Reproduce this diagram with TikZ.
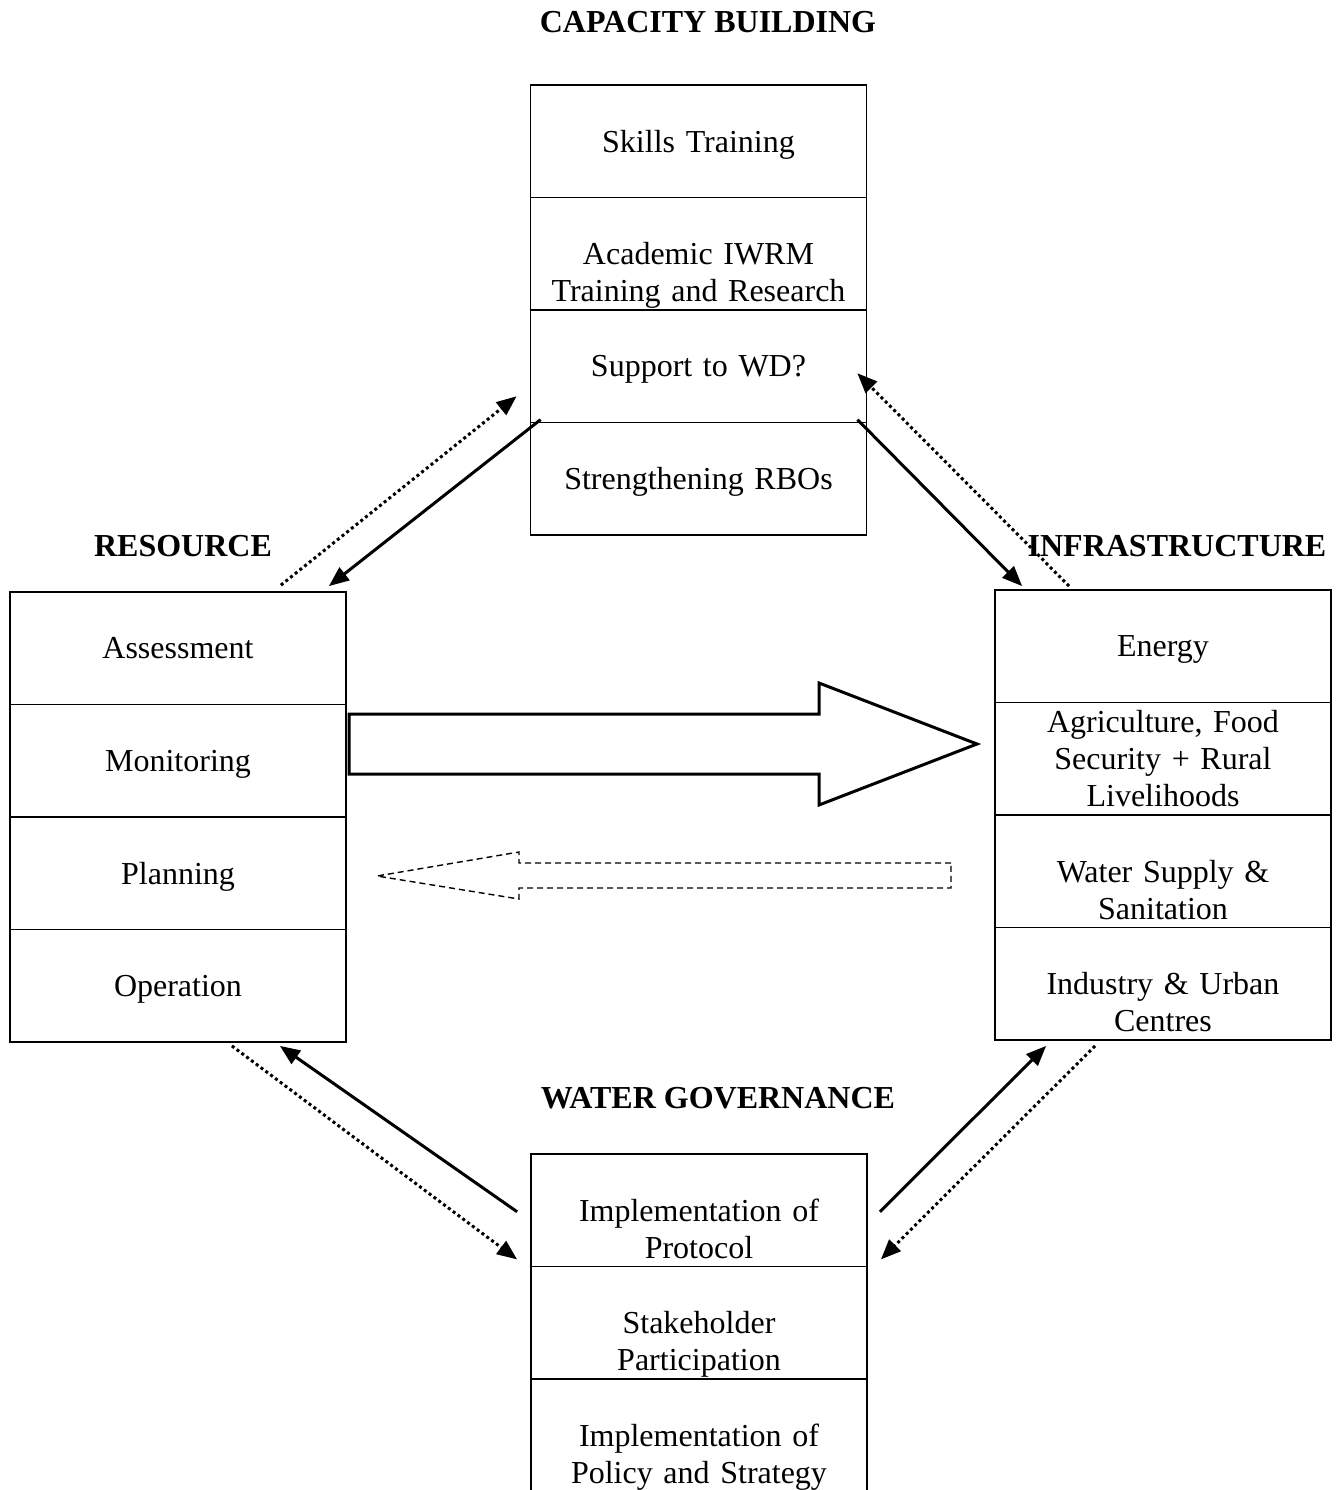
\documentclass[tikz,border=0pt]{standalone}
\usepackage{fontspec}
\setmainfont{Liberation Serif}
\usetikzlibrary{arrows.meta,calc}

\begin{document}
\begin{tikzpicture}[x=0.5pt,y=-0.5pt,
    cell/.style={draw, line width=0.9pt, minimum width=168pt, minimum height=56.25pt,
      inner xsep=4pt, inner ysep=0pt, text width=160pt, align=center, text depth=0pt,
      font=\fontsize{16}{18.5}\selectfont},
    title/.style={font=\fontsize{16}{18.5}\selectfont\bfseries},
    link/.style={line width=1.5pt, -{Triangle[length=10pt,width=8pt]}},
    dots/.style={link, dash pattern=on 1.5pt off 1.5pt}]

        \useasboundingbox (0,0) rectangle (1341,1490);

        % headings
        \node[title] (capacity)   at (708,22)   {CAPACITY BUILDING};
        \node[title] (resource)   at (183,546)  {RESOURCE};
        \node[title] (infra)      at (1177,546) {INFRASTRUCTURE};
        \node[title] (governance) at (718,1098) {WATER GOVERNANCE};

        \begin{scope}[every node/.style={cell}]
          % capacity building
          \node (skills)   at (698.5,141.25) {Skills Training};
          \node (academic) at (698.5,253.75) {Academic IWRM\\Training and Research};
          \node (support)  at (698.5,366.25) {Support to WD?};
          \node (rbos)     at (698.5,478.75) {Strengthening RBOs};
          % resource
          \node (assess)   at (178,648.25) {Assessment};
          \node (monitor)  at (178,760.75) {Monitoring};
          \node (plan)     at (178,873.25) {Planning};
          \node (operate)  at (178,985.75) {Operation};
          % infrastructure
          \node (energy)   at (1163,646.25) {Energy};
          \node[text height=11pt, text depth=37pt] (agri) at (1163,758.75)
            {Agriculture, Food\\Security + Rural\\Livelihoods};
          \node (water)    at (1163,871.25) {Water Supply \&\\Sanitation};
          \node (industry) at (1163,983.75) {Industry \& Urban\\Centres};
          % water governance
          \node (protocol) at (699,1210.25) {Implementation of\\Protocol};
          \node (stake)    at (699,1322.75) {Stakeholder\\Participation};
          \node (policy)   at (699,1435.25) {Implementation of\\Policy and Strategy};
        \end{scope}

        % links between the groups
        \draw[link] ($(rbos.north west)+(11,-2)$) -- ($(assess.north east)+(-18,-5)$);
        \draw[dots] ($(assess.north east)+(-66,-6)$) -- ($(support.west)+(-13,30)$);
        \draw[link] ($(rbos.north east)+(-10,-2)$) -- ($(energy.north west)+(28,-3)$);
        \draw[dots] ($(energy.north west)+(75,-3)$) -- ($(support.east)+(-10,7)$);
        \draw[link] ($(protocol.west)+(-13,1.5)$) -- ($(operate.south east)+(-67,3)$);
        \draw[dots] ($(operate.south east)+(-115,3)$) -- ($(protocol.south west)+(-13,-8)$);
        \draw[link] ($(protocol.east)+(12,1.5)$) -- ($(industry.south west)+(52,5)$);
        \draw[dots] ($(industry.south west)+(101,5)$) -- ($(protocol.south east)+(13,-8)$);

        % block arrows
        \draw[line width=1.5pt, line join=miter]
          (349,714) -- (819,714) -- (819,683) -- (977,744) -- (819,805) -- (819,774) -- (349,774) -- cycle;
        \draw[line width=0.7pt, dash pattern=on 3pt off 2pt]
          (951,863) -- (519,863) -- (519,852) -- (377,876) -- (519,899) -- (519,888) -- (951,888) -- cycle;

      \end{tikzpicture}
\end{document}
